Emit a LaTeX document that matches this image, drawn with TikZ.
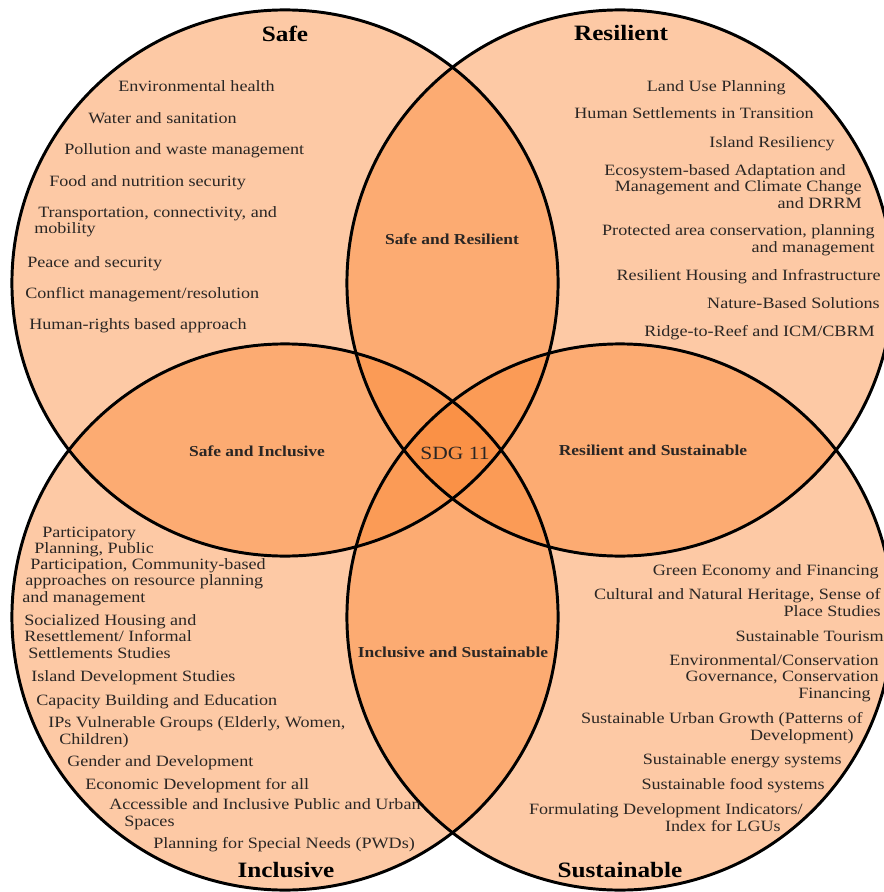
\documentclass[tikz,border=0pt]{standalone}
\usepackage{fontspec}
\setmainfont{Liberation Serif}[FakeStretch=1.15]
\usepackage{tikz}
\definecolor{sdgorange}{RGB}{250,133,50}
\definecolor{inkgray}{RGB}{42,38,36}

\begin{document}
\begin{tikzpicture}[x=0.025cm, y=-0.025cm,
  ring/.style={fill=sdgorange, fill opacity=0.44},
  rim/.style={draw=black, line width=2.1pt},
  item/.style={inner sep=0pt, text=inkgray,
               font=\fontsize{11.2}{11.4}\selectfont},
  lft/.style={item, anchor=base west, align=left},
  rgt/.style={item, anchor=base east, align=right},
  ttl/.style={inner sep=0pt, anchor=base, font=\fontsize{15.6}{18}\selectfont\bfseries},
  lens/.style={inner sep=0pt, anchor=base, text=inkgray,
               font=\fontsize{10.8}{12}\selectfont\bfseries}]
  \useasboundingbox (0,0) rectangle (883,892);
  \coordinate (safe) at (285,283);
  \coordinate (resil) at (620,283);
  \coordinate (incl) at (285,617);
  \coordinate (sust) at (620,617);

  \foreach \c in {safe,resil,incl,sust}
    \fill[ring] (\c) circle (6.825cm);
  \foreach \c in {safe,resil,incl,sust}
    \draw[rim] (\c) circle (6.825cm);

  \node[ttl] (tsafe) at (285,42) {Safe};
  \node[ttl] (tresil) at (621,41) {Resilient};
  \node[ttl] (tincl) at (286,877) {Inclusive};
  \node[ttl] (tsust) at (620,877) {Sustainable};

  \node[lens] (sr) at (452,244) {Safe and Resilient};
  \node[lens] (si) at (257,456) {Safe and Inclusive};
  \node[lens] (rs) at (653,455) {Resilient and Sustainable};
  \node[lens] (is) at (453,657) {Inclusive and Sustainable};
  \node[inner sep=0pt, anchor=base, text=inkgray, font=\fontsize{13.3}{15}\selectfont]
    (sdg) at (455,459) {SDG 11};

  \node[lft] (s1) at (118,92) {Environmental health};
  \node[lft] (s2) at (88,124) {Water and sanitation};
  \node[lft] (s3) at (64,155) {Pollution and waste management};
  \node[lft] (s4) at (49,187) {Food and nutrition security};
  \node[lft] (s5) at (34,234) {\hspace*{0.1cm}Transportation, connectivity, and\\mobility};
  \node[lft] (s6) at (27,267) {Peace and security};
  \node[lft] (s7) at (25,298) {Conflict management/resolution};
  \node[lft] (s8) at (29,329) {Human-rights based approach};

  \node[rgt] (r1) at (786,92) {Land Use Planning};
  \node[rgt] (r2) at (814,119) {Human Settlements in Transition};
  \node[rgt] (r3) at (835,148) {Island Resiliency};
  \node[rgt] (r4) at (862,208) {Ecosystem-based Adaptation and\hspace*{0.4cm}\\Management and Climate Change\\and DRRM};
  \node[rgt] (r5) at (875,252) {Protected area conservation, planning\\and management};
  \node[rgt] (r6) at (881,280) {Resilient Housing and Infrastructure};
  \node[rgt] (r7) at (880,308) {Nature-Based Solutions};
  \node[rgt] (r8) at (875,336) {Ridge-to-Reef and ICM/CBRM};

  \node[lft] (i1) at (22,602) {\hspace*{0.5cm}Participatory\\\hspace*{0.3cm}Planning, Public\\\hspace*{0.2cm}Participation, Community-based\\\hspace*{0.075cm}approaches on resource planning\\and management};
  \node[lft] (i2) at (24,658) {Socialized Housing and\\Resettlement/ Informal\\\hspace*{0.1cm}Settlements Studies};
  \node[lft] (i3) at (31,681) {Island Development Studies};
  \node[lft] (i4) at (36,705) {Capacity Building and Education};
  \node[lft] (i5) at (48,744) {IPs Vulnerable Groups (Elderly, Women,\\\hspace*{0.275cm}Children)};
  \node[lft] (i6) at (67,766) {Gender and Development};
  \node[lft] (i7) at (85,789) {Economic Development for all};
  \node[lft] (i8) at (109,826) {Accessible and Inclusive Public and Urban\\\hspace*{0.375cm}Spaces};
  \node[lft] (i9) at (153,848) {Planning for Special Needs (PWDs)};

  \node[rgt] (u1) at (879,575) {Green Economy and Financing};
  \node[rgt] (u2) at (881,616) {Cultural and Natural Heritage, Sense of\\Place Studies};
  \node[rgt] (u3) at (884,641) {Sustainable Tourism};
  \node[rgt] (u4) at (879,698) {Environmental/Conservation\\Governance, Conservation\hspace*{0.1cm}\\Financing\hspace*{0.2cm}};
  \node[rgt] (u5) at (863,740) {Sustainable Urban Growth (Patterns of\\Development)\hspace*{0.225cm}};
  \node[rgt] (u6) at (842,764) {Sustainable energy systems};
  \node[rgt] (u7) at (825,789) {Sustainable food systems};
  \node[rgt] (u8) at (803,831) {Formulating Development Indicators/\\Index for LGUs\hspace*{0.55cm}};
\end{tikzpicture}
\end{document}
